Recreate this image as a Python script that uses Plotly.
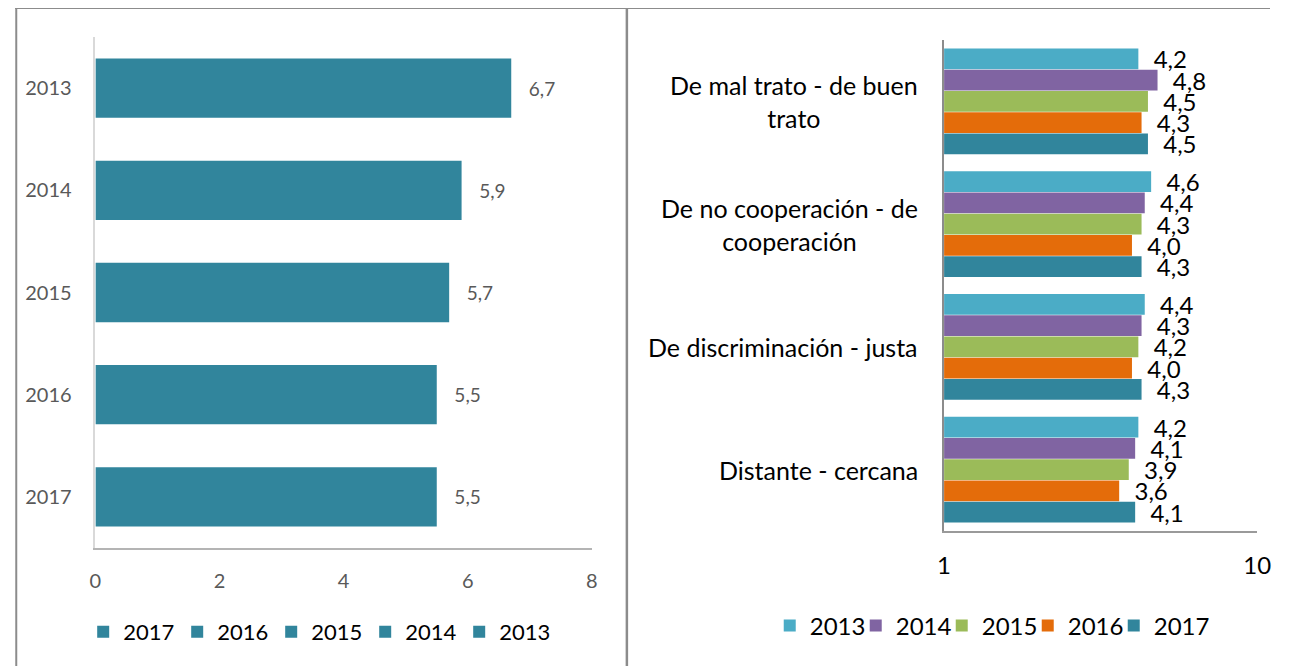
import plotly.graph_objects as go

# ---------------- data ----------------
left_years = ["2013", "2014", "2015", "2016", "2017"]
left_values = [6.7, 5.9, 5.7, 5.5, 5.5]
left_ticks = [0, 2, 4, 6, 8]

categories = [
    "De mal trato - de buen<br>trato",
    "De no cooperación - de<br>cooperación",
    "De discriminación - justa",
    "Distante - cercana",
]
series_years = ["2013", "2014", "2015", "2016", "2017"]
v2013 = [4.2, 4.6, 4.4, 4.2]
v2014 = [4.8, 4.4, 4.3, 4.1]
v2015 = [4.5, 4.3, 4.2, 3.9]
v2016 = [4.3, 4.0, 4.0, 3.6]
v2017 = [4.5, 4.3, 4.3, 4.1]
right_series = [v2013, v2014, v2015, v2016, v2017]
right_ticktext = ["1", "10"]

# ---------------- styles ----------------
W, H = 1278, 660
XO, XS, YO = 13.5, 0.983, 8      # page placement of the figure
FONT = "Lato"
TEAL = "#31859C"
right_colors = ["#4BACC6", "#8064A2", "#9BBB59", "#E46C0A", "#31859C"]
R0, R1 = -1.88, 7.92   # right axis extent (labelled 1 .. 10 in the original)


def fx(p):
    return max(0.0, min(1.0, (p - XO) / XS / W))


def fy(p):
    return 1 - (p - YO) / H


def fmt(v):
    return f"{v:.1f}".replace(".", ",")


NB = "\u00a0"

fig = go.Figure()

# left chart: one bar per year, same colour
for yr, val in zip(left_years, left_values):
    fig.add_trace(go.Bar(
        x=[val], y=[yr], orientation="h", name=yr,
        marker=dict(color=TEAL, line=dict(width=0)),
        width=0.58, offsetgroup="L",
        text=[NB * 3 + fmt(val)], textposition="outside",
        textfont=dict(family=FONT, size=19, color="#595959"),
        constraintext="none", cliponaxis=False,
        xaxis="x", yaxis="y", legend="legend2",
    ))

# right chart: grouped bars
for yr, vals, col in zip(series_years, right_series, right_colors):
    fig.add_trace(go.Bar(
        x=[v - R0 for v in vals], base=R0, y=categories, orientation="h",
        name=yr, marker=dict(color=col, line=dict(width=0)),
        text=[NB * 2 + fmt(v) for v in vals], textposition="outside",
        textfont=dict(family=FONT, size=24, color="#000000"),
        constraintext="none", cliponaxis=False,
        xaxis="x2", yaxis="y2", legend="legend",
        hovertext=[fmt(v) for v in vals], hoverinfo="text+name",
    ))
# spacer entry so the last legend label is not clipped
fig.add_trace(go.Bar(x=[None], y=[None], name=" ",
                     marker=dict(color="rgba(0,0,0,0)", line=dict(color="rgba(0,0,0,0)", width=0)),
                     xaxis="x2", yaxis="y2", legend="legend", hoverinfo="skip",
                     offsetgroup="spacer"))

annotations = []
for c in categories:
    annotations.append(dict(
        text=c, xref="x2 domain", x=0, xanchor="right", xshift=-24,
        yref="y2", y=c, yanchor="middle", align="center", showarrow=False,
        font=dict(family=FONT, size=25, color="#000000"),
    ))

line_col = "#8c8c8c"
shapes = [
    dict(type="line", xref="paper", yref="paper", x0=0.001, x1=0.001, y0=fy(8), y1=0,
         line=dict(color=line_col, width=2)),
    dict(type="line", xref="paper", yref="paper", x0=0, x1=1, y0=fy(8), y1=fy(8),
         line=dict(color=line_col, width=2)),
    dict(type="line", xref="paper", yref="paper", x0=fx(626), x1=fx(626), y0=fy(8), y1=0,
         line=dict(color=line_col, width=2.5)),
]

fig.update_layout(
    width=W, height=H, margin=dict(l=0, r=0, t=0, b=0),
    paper_bgcolor="white", plot_bgcolor="white",
    barmode="group", bargap=0.136, bargroupgap=0.02,
    font=dict(family=FONT, color="#000000"),
    showlegend=True,
    xaxis=dict(domain=[fx(94), fx(591)], range=[0, 8], tickvals=left_ticks,
               showgrid=False, zeroline=False, showline=True, linecolor="#b4b4b4",
               linewidth=1.5, ticks="", ticklabelstandoff=14,
               tickfont=dict(family=FONT, size=20, color="#595959"), fixedrange=True),
    yaxis=dict(domain=[fy(548), fy(37)], type="category", categoryorder="array",
               categoryarray=left_years, autorange="reversed",
               showgrid=False, zeroline=False, showline=True, linecolor="#d9d9d9",
               linewidth=1.5, ticks="", ticklabelstandoff=18,
               tickfont=dict(family=FONT, size=20, color="#595959"), anchor="x"),
    xaxis2=dict(domain=[fx(943.5), fx(1257)], range=[R0, R1],
                tickvals=[R0, R1], ticktext=right_ticktext,
                showgrid=False, zeroline=False, showline=True, linecolor="#9a9a9a",
                linewidth=2, ticks="", ticklabelstandoff=12, anchor="y2",
                tickfont=dict(family=FONT, size=24, color="#000000")),
    yaxis2=dict(domain=[fy(531), fy(40)], type="category", categoryorder="array",
                categoryarray=categories, autorange="reversed", anchor="x2",
                showgrid=False, zeroline=False, showline=True, linecolor="#8c8c8c",
                linewidth=2, ticks="", showticklabels=False),
    legend=dict(orientation="h", x=fx(769), xanchor="left", y=fy(626), yanchor="middle",
                entrywidth=41, entrywidthmode="pixels",
                font=dict(family=FONT, size=24, color="#000000"), bgcolor="rgba(0,0,0,0)"),
    legend2=dict(orientation="h", x=fx(317), xanchor="center", y=fy(632), yanchor="middle",
                 traceorder="reversed", entrywidth=49, entrywidthmode="pixels",
                 font=dict(family=FONT, size=22, color="#000000"), bgcolor="rgba(0,0,0,0)"),
    annotations=annotations,
    shapes=shapes,
)

fig.write_html("out.html")
